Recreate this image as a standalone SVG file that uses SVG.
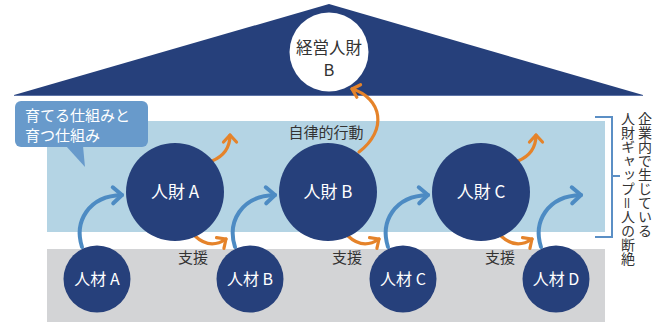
<svg xmlns="http://www.w3.org/2000/svg" width="662" height="322" viewBox="0 0 662 322">
<defs>
<style>
.bg{font-family:"Noto Sans CJK JP","Noto Sans",sans-serif}
.wt{fill:#ffffff;text-anchor:middle}
.dk{fill:#333333}
.node{fill:#26407b}
.blue{fill:none;stroke:#4d8bc3;stroke-width:4;stroke-linecap:round}
.org{fill:none;stroke:#e5832a;stroke-width:3.2;stroke-linecap:round}
.vt{writing-mode:vertical-rl;font-size:14px;fill:#333333}
</style>
<marker id="ab" markerUnits="userSpaceOnUse" markerWidth="24" markerHeight="24" refX="0" refY="0" viewBox="-12 -12 24 24" orient="auto" overflow="visible">
<path d="M-9,-8 L0,0 L-9,8" fill="none" stroke="#4d8bc3" stroke-width="4" stroke-linecap="round" stroke-linejoin="round"/>
</marker>
<marker id="ao" markerUnits="userSpaceOnUse" markerWidth="24" markerHeight="24" refX="0" refY="0" viewBox="-12 -12 24 24" orient="auto" overflow="visible">
<path d="M-7,-6.5 L0,0 L-7,6.5" fill="none" stroke="#e5832a" stroke-width="3.2" stroke-linecap="round" stroke-linejoin="round"/>
</marker>
</defs>
<rect width="662" height="322" fill="#ffffff"/>
<g id="roof">
<polygon points="14,95 329,4 643,95" fill="#26407b"/>
<line x1="14" y1="95.5" x2="643" y2="95.5" stroke="#5d73a6" stroke-width="1"/>
</g>
<rect id="upper-band" x="47" y="121" width="558" height="111" fill="#b4d4e4"/>
<rect id="lower-band" x="47" y="249" width="558" height="73" fill="#d3d4d6"/>
<g id="label-box" class="bg">
<rect x="15" y="101" width="133" height="46" rx="6" fill="#689acb"/>
<polygon points="66,146 85,167 83,146" fill="#689acb"/>
<text x="25" y="120.5" font-size="15" fill="#ffffff">育てる仕組みと</text>
<text x="25" y="140.5" font-size="15" fill="#ffffff">育つ仕組み</text>
</g>
<g id="connectors">
<path class="blue" d="M82,247 C74,222 88,196 122,195" marker-end="url(#ab)"/>
<path class="blue" d="M235,247 C227,222 241,196 275,195" marker-end="url(#ab)"/>
<path class="blue" d="M388,247 C380,222 394,196 428,195" marker-end="url(#ab)"/>
<path class="blue" d="M541,247 C533,222 547,196 581,195" marker-end="url(#ab)"/>
<path class="org" d="M195,236 Q210,250 226,239" marker-end="url(#ao)"/>
<path class="org" d="M348,236 Q363,250 379,239" marker-end="url(#ao)"/>
<path class="org" d="M501,236 Q516,250 532,239" marker-end="url(#ao)"/>
<path class="org" d="M212,161 C224,156 230,148 230,135" marker-end="url(#ao)"/>
<path class="org" d="M518,161 C530,156 536,148 536,135" marker-end="url(#ao)"/>
<path class="org" d="M359,152 C388,130 382,98 352,89" marker-end="url(#ao)"/>
</g>
<g id="keiei-B" class="bg">
<circle cx="329" cy="52" r="39.5" fill="#ffffff"/>
<text x="329" y="54" font-size="16.5" class="dk" text-anchor="middle">経営人財</text>
<text x="329" y="76" font-size="16.5" class="dk" text-anchor="middle">B</text>
</g>
<g id="jinzai-A" class="bg"><circle class="node" cx="175" cy="192" r="49"/><text class="wt" x="175" y="198" font-size="17">人財 A</text></g>
<g id="jinzai-B" class="bg"><circle class="node" cx="328" cy="192" r="49"/><text class="wt" x="328" y="198" font-size="17">人財 B</text></g>
<g id="jinzai-C" class="bg"><circle class="node" cx="481" cy="192" r="49"/><text class="wt" x="481" y="198" font-size="17">人財 C</text></g>
<g id="jinzai2-A" class="bg"><circle class="node" cx="97" cy="279" r="33.5"/><text class="wt" x="97" y="285" font-size="16">人材 A</text></g>
<g id="jinzai2-B" class="bg"><circle class="node" cx="250" cy="279" r="33.5"/><text class="wt" x="250" y="285" font-size="16">人材 B</text></g>
<g id="jinzai2-C" class="bg"><circle class="node" cx="403" cy="279" r="33.5"/><text class="wt" x="403" y="285" font-size="16">人材 C</text></g>
<g id="jinzai2-D" class="bg"><circle class="node" cx="556" cy="279" r="33.5"/><text class="wt" x="556" y="285" font-size="16">人材 D</text></g>
<g id="labels" class="bg">
<text x="326" y="138" font-size="15" class="dk" text-anchor="middle">自律的行動</text>
<text x="193" y="263" font-size="15" class="dk" text-anchor="middle">支援</text>
<text x="347" y="263" font-size="15" class="dk" text-anchor="middle">支援</text>
<text x="500" y="263" font-size="15" class="dk" text-anchor="middle">支援</text>
</g>
<g id="gap-note" class="bg">
<path d="M595,117 H612 V237 H595 M612,176 H620" fill="none" stroke="#5b8fc5" stroke-width="2"/>
<text class="vt" x="645" y="112">企業内で生じている</text>
<text class="vt" x="628" y="112">人財ギャップ＝人の断絶</text>
</g>
</svg>
